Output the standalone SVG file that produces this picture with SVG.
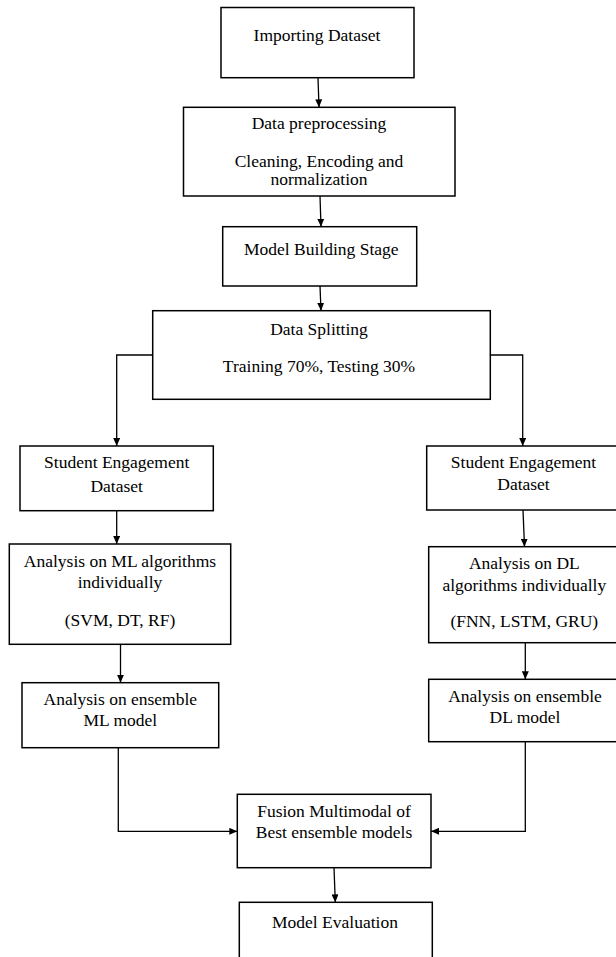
<svg xmlns="http://www.w3.org/2000/svg" width="616" height="957" viewBox="0 0 616 957">
<style>
.box{fill:#fff;stroke:#000;stroke-width:1.5}
.t{font-family:"Liberation Serif","Times New Roman",serif;font-size:17.5px;fill:#000;text-anchor:middle}
.c{fill:none;stroke:#000;stroke-width:1.3}
</style>
<defs>
<marker id="ah" viewBox="0 0 8 7" refX="8" refY="3.5" markerWidth="8" markerHeight="7" markerUnits="userSpaceOnUse" orient="auto">
<path d="M0,0 L8,3.5 L0,7 z" fill="#000"/>
</marker>
</defs>
<rect width="616" height="957" fill="#fff"/>
<g id="connectors">
<path class="c" d="M318,77.7 L319,107.3" marker-end="url(#ah)"/>
<path class="c" d="M320,196 L321,226.7" marker-end="url(#ah)"/>
<path class="c" d="M320,286 L321,310.7" marker-end="url(#ah)"/>
<path class="c" d="M152.7,355 L116.7,355 L116.7,446" marker-end="url(#ah)"/>
<path class="c" d="M490.3,355 L522.7,355 L522.7,446" marker-end="url(#ah)"/>
<path class="c" d="M116.7,510.7 L116.7,544" marker-end="url(#ah)"/>
<path class="c" d="M523,510 L524.5,546.7" marker-end="url(#ah)"/>
<path class="c" d="M120.5,644.3 L120.5,682.7" marker-end="url(#ah)"/>
<path class="c" d="M525.3,642.7 L525.3,679.3" marker-end="url(#ah)"/>
<path class="c" d="M118.3,747.7 L118.3,831.3 L237.3,831.3" marker-end="url(#ah)"/>
<path class="c" d="M525.3,741.7 L525.3,831.3 L431,831.3" marker-end="url(#ah)"/>
<path class="c" d="M334,867.7 L335.3,902.3" marker-end="url(#ah)"/>
</g>
<g id="importing">
<rect class="box" x="221" y="7.5" width="193" height="70.2"/>
<text class="t" x="317" y="41">Importing Dataset</text>
</g>
<g id="preprocessing">
<rect class="box" x="183.5" y="107.3" width="271.5" height="88.7"/>
<text class="t" x="319" y="128.5">Data preprocessing</text>
<text class="t" x="319" y="166.5">Cleaning, Encoding and</text>
<text class="t" x="319" y="185.3">normalization</text>
</g>
<g id="model-building">
<rect class="box" x="222.7" y="226.7" width="194" height="59.3"/>
<text class="t" x="321.3" y="255">Model Building Stage</text>
</g>
<g id="data-splitting">
<rect class="box" x="152.7" y="310.7" width="337.6" height="88.6"/>
<text class="t" x="319" y="335">Data Splitting</text>
<text class="t" x="319" y="371.7">Training 70%, Testing 30%</text>
</g>
<g id="student-ml">
<rect class="box" x="20" y="446" width="193.3" height="64.7"/>
<text class="t" x="116.7" y="468.3">Student Engagement</text>
<text class="t" x="116.7" y="491.7">Dataset</text>
</g>
<g id="student-dl">
<rect class="box" x="426.7" y="446" width="194" height="64"/>
<text class="t" x="523.5" y="467.7">Student Engagement</text>
<text class="t" x="523.5" y="490">Dataset</text>
</g>
<g id="ml-algorithms">
<rect class="box" x="9.3" y="544" width="221.4" height="100.3"/>
<text class="t" x="120" y="566.7">Analysis on ML algorithms</text>
<text class="t" x="120" y="588.3">individually</text>
<text class="t" x="120" y="626">(SVM, DT, RF)</text>
</g>
<g id="dl-algorithms">
<rect class="box" x="428.7" y="546.7" width="192" height="96"/>
<text class="t" x="524.3" y="569.3">Analysis on DL</text>
<text class="t" x="524.3" y="590.7">algorithms individually</text>
<text class="t" x="524.3" y="626.7">(FNN, LSTM, GRU)</text>
</g>
<g id="ensemble-ml">
<rect class="box" x="22" y="682.7" width="196.7" height="65"/>
<text class="t" x="120.3" y="705">Analysis on ensemble</text>
<text class="t" x="120.3" y="726">ML model</text>
</g>
<g id="ensemble-dl">
<rect class="box" x="428.7" y="679.3" width="192" height="62.4"/>
<text class="t" x="525" y="701.7">Analysis on ensemble</text>
<text class="t" x="525" y="722.7">DL model</text>
</g>
<g id="fusion">
<rect class="box" x="237.3" y="794.3" width="193.7" height="73.4"/>
<text class="t" x="334" y="816.7">Fusion Multimodal of</text>
<text class="t" x="334" y="838.3">Best ensemble models</text>
</g>
<g id="evaluation">
<rect class="box" x="239.3" y="902.3" width="193" height="70"/>
<text class="t" x="335" y="927.7">Model Evaluation</text>
</g>
</svg>
